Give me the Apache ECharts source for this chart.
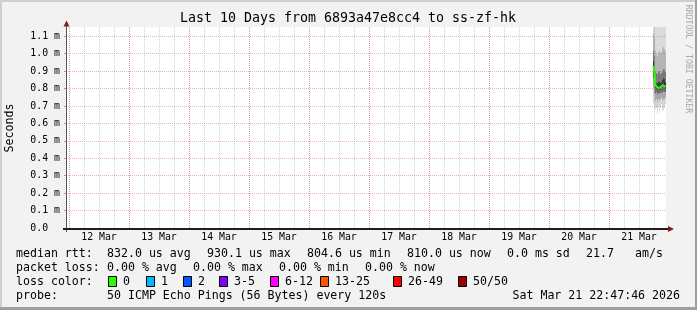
<!DOCTYPE html>
<html><head><meta charset="utf-8">
<script src="https://cdn.jsdelivr.net/npm/echarts@6/dist/echarts.min.js"></script>
<style>html,body{margin:0;padding:0;background:#f2f2f2;overflow:hidden}#c{width:697px;height:310px}</style>
</head><body><div id="c"></div>
<script>
// ---------------- data ----------------
const chartTitle = 'Last 10 Days from 6893a47e8cc4 to ss-zf-hk';
const yAxisName = 'Seconds';
const watermark = 'RRDTOOL / TOBI OETIKER';
const rangeStart = '2026-03-11 22:47:46';
const rangeEnd = '2026-03-21 22:47:46';
const firstGridDay = '2026-03-12 00:00:00';
const lastGridDay = '2026-03-22 00:00:00';
const monthNames = ['Jan','Feb','Mar','Apr','May','Jun','Jul','Aug','Sep','Oct','Nov','Dec'];
const yMaxMs = 1.153;
const yStepMs = 0.1;
const stepMinutes = 24;

const sampleTimes = ['2026-03-21 18:00','2026-03-21 18:24','2026-03-21 18:48','2026-03-21 19:12','2026-03-21 19:36','2026-03-21 20:00','2026-03-21 20:24','2026-03-21 20:48','2026-03-21 21:12','2026-03-21 21:36','2026-03-21 22:00','2026-03-21 22:24','2026-03-21 22:48'];
// sorted ping quantiles (ms)
const pingMin = [0.72, 0.70, 0.68, 0.69, 0.66, 0.70, 0.67, 0.69, 0.71, 0.67, 0.68, 0.69, 0.71];
const pingQ10 = [0.80, 0.77, 0.73, 0.74, 0.72, 0.74, 0.73, 0.74, 0.75, 0.73, 0.74, 0.74, 0.75];
const pingQ25 = [0.86, 0.83, 0.77, 0.78, 0.765, 0.775, 0.77, 0.775, 0.78, 0.775, 0.785, 0.78, 0.78];
const pingQ40 = [0.905, 0.875, 0.80, 0.795, 0.79, 0.795, 0.80, 0.79, 0.80, 0.805, 0.815, 0.81, 0.795];
const medianRtt = [0.930, 0.898, 0.818, 0.812, 0.805, 0.809, 0.815, 0.806, 0.812, 0.820, 0.831, 0.826, 0.810];
const pingQ60 = [0.96, 0.93, 0.845, 0.84, 0.835, 0.84, 0.845, 0.835, 0.84, 0.85, 0.86, 0.855, 0.84];
const pingQ75 = [1.02, 0.99, 0.90, 0.89, 0.885, 0.895, 0.90, 0.885, 0.89, 0.905, 0.915, 0.91, 0.895];
const pingQ90 = [1.12, 1.09, 1.02, 1.00, 0.99, 1.01, 1.02, 1.00, 1.01, 1.03, 1.04, 1.03, 1.01];
const pingMax = [1.45, 1.40, 1.35, 1.30, 1.28, 1.33, 1.38, 1.31, 1.36, 1.42, 1.44, 1.39, 1.34];

const rttLabel = 'median rtt:';
const rttStats = ['832.0 us avg', '930.1 us max', '804.6 us min', '810.0 us now', '0.0 ms sd'];
const rttRate = ['21.7', 'am/s'];
const lossLabel = 'packet loss:';
const lossStats = ['0.00 % avg', '0.00 % max', '0.00 % min', '0.00 % now'];
const colorLabel = 'loss color:';
const lossLabels = ['0', '1', '2', '3-5', '6-12', '13-25', '26-49', '50/50'];
const probeLabel = 'probe:';
const probeText = '50 ICMP Echo Pings (56 Bytes) every 120s';
const stampText = 'Sat Mar 21 22:47:46 2026';

// ---------------- styles / layout ----------------
const lossColors = ['#26ff00', '#00b8ff', '#0059ff', '#7e00ff', '#ff00ff', '#ff5500', '#ff0000', '#a10000'];
const bandColors = ['#d6d6d6', '#a8a8a8', '#6c6c6c', '#3c3c3c', '#3c3c3c', '#7a7a7a', '#b4b4b4', '#dadada'];
const MONO = '"DejaVu Sans Mono", "Liberation Mono", monospace';
const PLOT_L = 66, PLOT_T = 27, PLOT_W = 600, PLOT_H = 201;
const rttX = [107, 207, 307, 407, 507];
const rateX = [586, 635];
const lossX = [107, 193, 279, 365];
const swatchX = [108, 146, 183, 219, 270, 320, 393, 458];
const LINE_Y = [254, 268, 282, 296];

const ts = s => Date.parse(s.replace(' ', 'T') + (s.length === 16 ? ':00' : '') + 'Z');
const HOUR = 3600e3;
const STEP_MS = stepMinutes * 60e3;
const t0 = ts(rangeStart), t1 = ts(rangeEnd);
const g0 = ts(firstGridDay), g1 = ts(lastGridDay);
const pxPerMs = PLOT_W / (t1 - t0);
const gridHours = (g1 - g0) / HOUR;

const smokeData = sampleTimes.map((s, i) => [ts(s), pingMin[i], pingQ10[i], pingQ25[i], pingQ40[i], medianRtt[i], pingQ60[i], pingQ75[i], pingQ90[i], pingMax[i]]);
const medianData = sampleTimes.map((s, i) => [ts(s) - STEP_MS / 2, medianRtt[i]]);

const MAJOR_COLOR = 'rgba(222,79,79,0.42)';
const minorLine = { show: true, showMinLine: true, showMaxLine: false, lineStyle: { color: 'rgba(143,143,143,0.42)', width: 1, type: [1, 1] } };
const majorLine = { show: true, showMinLine: true, showMaxLine: false, lineStyle: { color: MAJOR_COLOR, width: 1, type: [1, 1] } };
const hidden = { axisLine: { show: false }, axisTick: { show: false }, axisLabel: { show: false } };

function txt(text, x, y, opts) {
  opts = opts || {};
  return {
    type: 'text', x: x, y: y, z: 100, rotation: opts.rotation || 0,
    style: {
      text: text, font: (opts.size || 11.6) + 'px ' + MONO, fill: opts.fill || '#000',
      align: opts.align || 'left', verticalAlign: 'middle',
      textAlign: opts.align || 'left', textVerticalAlign: 'middle'
    }
  };
}

const graphics = [];
// frame
graphics.push({ type: 'rect', z: 100, shape: { x: 0, y: 0, width: 697, height: 2 }, style: { fill: '#cfcfcf' } });
graphics.push({ type: 'rect', z: 100, shape: { x: 0, y: 0, width: 2, height: 310 }, style: { fill: '#cfcfcf' } });
graphics.push({ type: 'rect', z: 101, shape: { x: 0, y: 307, width: 697, height: 3 }, style: { fill: '#9e9e9e' } });
graphics.push({ type: 'rect', z: 101, shape: { x: 695, y: 0, width: 2, height: 310 }, style: { fill: '#9e9e9e' } });
// axes lines and arrows
graphics.push({ type: 'line', z: 100, shape: { x1: 66.5, y1: 232, x2: 66.5, y2: 24 }, style: { stroke: '#555', lineWidth: 1 } });
graphics.push({ type: 'line', z: 100, shape: { x1: 63, y1: 229, x2: 669, y2: 229 }, style: { stroke: '#1f1f1f', lineWidth: 2 } });
graphics.push({ type: 'polygon', z: 101, shape: { points: [[63.5, 26.5], [69.5, 26.5], [66.5, 20.5]] }, style: { fill: '#801f1f' } });
graphics.push({ type: 'polygon', z: 101, shape: { points: [[668, 226], [668, 232], [674, 229]] }, style: { fill: '#801f1f' } });
// titles
graphics.push(txt(chartTitle, 348, 19, { size: 13.3, align: 'center' }));
graphics.push(txt(yAxisName, 10, 128, { size: 11.6, align: 'center', rotation: Math.PI / 2 }));
graphics.push(txt(watermark, 688, 59, { size: 8.2, align: 'center', rotation: -Math.PI / 2, fill: '#a8a8a8' }));
// legend lines
graphics.push(txt(rttLabel, 16, LINE_Y[0]));
rttStats.forEach((s, i) => graphics.push(txt(s, rttX[i], LINE_Y[0])));
rttRate.forEach((s, i) => graphics.push(txt(s, rateX[i], LINE_Y[0])));
graphics.push(txt(lossLabel, 16, LINE_Y[1]));
lossStats.forEach((s, i) => graphics.push(txt(s, lossX[i], LINE_Y[1])));
graphics.push(txt(colorLabel, 16, LINE_Y[2]));
lossLabels.forEach((s, i) => {
  graphics.push({ type: 'rect', z: 100, shape: { x: swatchX[i] + 0.5, y: LINE_Y[2] - 5.5, width: 8, height: 10 }, style: { fill: lossColors[i], stroke: '#000', lineWidth: 1 } });
  graphics.push(txt(s, swatchX[i] + 15, LINE_Y[2]));
});
graphics.push(txt(probeLabel, 16, LINE_Y[3]));
graphics.push(txt(probeText, 107, LINE_Y[3]));
graphics.push(txt(stampText, 680, LINE_Y[3], { align: 'right' }));

const option = {
  backgroundColor: '#f2f2f2',
  animation: false,
  grid: [
    { left: PLOT_L, top: PLOT_T, width: PLOT_W, height: PLOT_H, show: true, backgroundColor: '#ffffff', borderWidth: 0 },
    { left: PLOT_L + (g0 - t0) * pxPerMs, top: PLOT_T, width: (g1 - g0) * pxPerMs, height: PLOT_H, show: false }
  ],
  xAxis: [
    Object.assign({ gridIndex: 0, type: 'value', min: t0, max: t1, splitLine: { show: false } }, hidden),
    Object.assign({ gridIndex: 1, type: 'value', min: 0, max: gridHours, interval: 6, z: 5, splitLine: minorLine }, hidden),
    Object.assign({ gridIndex: 1, type: 'value', min: 0, max: gridHours, interval: 24, z: 5, splitLine: majorLine }, hidden),
    {
      gridIndex: 1, type: 'value', min: 0, max: gridHours, interval: 12, position: 'bottom',
      splitLine: { show: false }, axisLine: { show: false }, axisTick: { show: false },
      axisLabel: {
        show: true, interval: 0, margin: 4, color: '#000', fontFamily: MONO, fontSize: 9.85,
        formatter: v => {
          if (Math.round(v) % 24 !== 12) return '';
          const d = new Date(g0 + v * HOUR);
          return d.getUTCDate() + ' ' + monthNames[d.getUTCMonth()];
        }
      }
    }
  ],
  yAxis: [
    {
      gridIndex: 0, type: 'value', min: 0, max: yMaxMs, interval: yStepMs, z: 5,
      axisLine: { show: false },
      axisTick: { show: true, length: 2, lineStyle: { color: 'rgba(222,79,79,0.7)' } },
      splitLine: { show: true, showMinLine: false, showMaxLine: false, lineStyle: { color: MAJOR_COLOR, width: 1, type: [1, 1] } },
      axisLabel: {
        show: true, margin: 6, color: '#000', fontFamily: MONO, fontSize: 9.85, showMaxLabel: false,
        formatter: v => {
          const k = v / yStepMs;
          if (Math.abs(k - Math.round(k)) > 1e-6) return '';
          return v === 0 ? '0.0  ' : v.toFixed(1) + ' m';
        }
      }
    },
    Object.assign({ gridIndex: 1, type: 'value', min: 0, max: 1, splitLine: { show: false } }, hidden)
  ],
  series: [
    {
      type: 'custom', xAxisIndex: 0, yAxisIndex: 0, clip: true, z: 2,
      data: smokeData,
      renderItem: function (params, api) {
        const t = api.value(0);
        const x0 = Math.round(api.coord([t - STEP_MS, 0])[0]);
        const x1 = Math.round(api.coord([t, 0])[0]);
        const children = [];
        for (let j = 0; j < bandColors.length; j++) {
          const yLo = api.coord([t, api.value(1 + j)])[1];
          const yHi = api.coord([t, api.value(2 + j)])[1];
          children.push({ type: 'rect', shape: { x: x0, y: yHi, width: Math.max(1, x1 - x0), height: yLo - yHi }, style: { fill: bandColors[j] } });
        }
        return { type: 'group', children: children };
      }
    },
    {
      type: 'line', xAxisIndex: 0, yAxisIndex: 0, z: 6, data: medianData,
      symbol: 'none', lineStyle: { color: lossColors[0], width: 2 }
    }
  ],
  graphic: { elements: graphics }
};

const chart = echarts.init(document.getElementById('c'), null, { renderer: 'canvas', width: 697, height: 310 });
chart.setOption(option);
</script>
</body></html>
